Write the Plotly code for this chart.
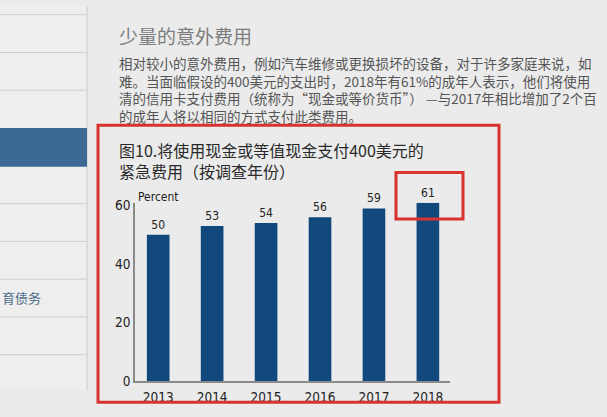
import plotly.graph_objects as go

years = ["2013", "2014", "2015", "2016", "2017", "2018"]
percent = [50, 53, 54, 56, 59, 61]
y_ticks = [0, 20, 40, 60]

title_lines = ["图10.将使用现金或等值现金支付400美元的", "紧急费用（按调查年份）"]
heading = "少量的意外费用"
paragraph = [
    "相对较小的意外费用，例如汽车维修或更换损坏的设备，对于许多家庭来说，如",
    "难。当面临假设的400美元的支出时，2018年有61%的成年人表示，他们将使用",
    "清的信用卡支付费用（统称为“现金或等价货币”） —与2017年相比增加了2个百",
    "的成年人将以相同的方式支付此类费用。",
]

W, H = 607, 417
def px(x):
    return x / W
def py(y):
    return 1 - y / H

CJK = "Noto Sans CJK SC"
NARROW = "Liberation Sans Narrow, DejaVu Sans Condensed, Arial, sans-serif"

fig = go.Figure(
    go.Bar(
        x=years,
        y=percent,
        text=[str(v) for v in percent],
        textposition="outside",
        textfont=dict(family=NARROW, size=12, color="#222222"),
        marker=dict(color="#12497d", line=dict(width=0)),
        width=0.42,
        cliponaxis=False,
        hoverinfo="skip",
    )
)

shapes = []
# sidebar
shapes.append(dict(type="rect", xref="paper", yref="paper", x0=0, x1=px(87), y0=py(398), y1=1,
                   fillcolor="#eeeeee", line=dict(width=0), layer="below"))
shapes.append(dict(type="line", xref="paper", yref="paper", x0=px(87), x1=px(87), y0=py(398), y1=1,
                   line=dict(color="#c8cdd2", width=1)))
for yy in [10, 49, 88, 205, 244, 283, 322, 361]:
    shapes.append(dict(type="line", xref="paper", yref="paper", x0=0, x1=px(87), y0=py(yy), y1=py(yy),
                       line=dict(color="#c9cfd5", width=1)))
shapes.append(dict(type="rect", xref="paper", yref="paper", x0=0, x1=px(87), y0=py(167), y1=py(127),
                   fillcolor="#3d6a95", line=dict(width=0)))
# red boxes
shapes.append(dict(type="rect", xref="paper", yref="paper", x0=px(98), x1=px(499), y0=py(410), y1=py(124),
                   line=dict(color="#d8332e", width=3)))
shapes.append(dict(type="rect", xref="paper", yref="paper", x0=px(396), x1=px(463), y0=py(221), y1=py(173),
                   line=dict(color="#d8332e", width=3)))

annotations = []
annotations.append(dict(text="育债务", xref="paper", yref="paper", x=0, y=py(302), xanchor="left",
                        yanchor="middle", showarrow=False, font=dict(family=CJK, size=13, color="#4d6d8c")))
annotations.append(dict(text=heading, xref="paper", yref="paper", x=px(117), y=py(31), xanchor="left",
                        yanchor="middle", showarrow=False, font=dict(family=CJK, size=19, color="#7d7d7d")))
annotations.append(dict(text="<br>".join(paragraph), xref="paper", yref="paper", x=px(117), y=py(87),
                        xanchor="left", yanchor="middle", align="left", showarrow=False,
                        font=dict(family=CJK, size=13.5, color="#555555")))
annotations.append(dict(text="<br>".join(title_lines), xref="paper", yref="paper", x=px(117), y=py(160),
                        xanchor="left", yanchor="middle", align="left", showarrow=False,
                        font=dict(family=CJK, size=16, color="#2a2a2a")))
annotations.append(dict(text="Percent", xref="paper", yref="paper", x=px(136), y=py(198), xanchor="left",
                        yanchor="middle", showarrow=False, font=dict(family=NARROW, size=12, color="#222222")))

fig.update_layout(
    width=W, height=H,
    margin=dict(l=0, r=0, t=0, b=0),
    paper_bgcolor="#ebebeb",
    plot_bgcolor="#ebebeb",
    showlegend=False,
    shapes=shapes,
    annotations=annotations,
    xaxis=dict(
        domain=[px(135), px(450)],
        range=[-0.43, 5.41],
        type="category",
        showline=True, linecolor="#8a8a8a", linewidth=1.5,
        ticks="", showgrid=False, zeroline=False,
        ticklabelstandoff=3,
        tickfont=dict(family=NARROW, size=13.5, color="#222222"),
    ),
    yaxis=dict(
        domain=[py(388), py(204)],
        range=[0, 61],
        tickvals=y_ticks,
        showline=True, linecolor="#8a8a8a", linewidth=1.5,
        ticks="", showgrid=False, zeroline=False,
        tickfont=dict(family=NARROW, size=13.5, color="#222222"),
    ),
)

fig.write_html("out.html")
